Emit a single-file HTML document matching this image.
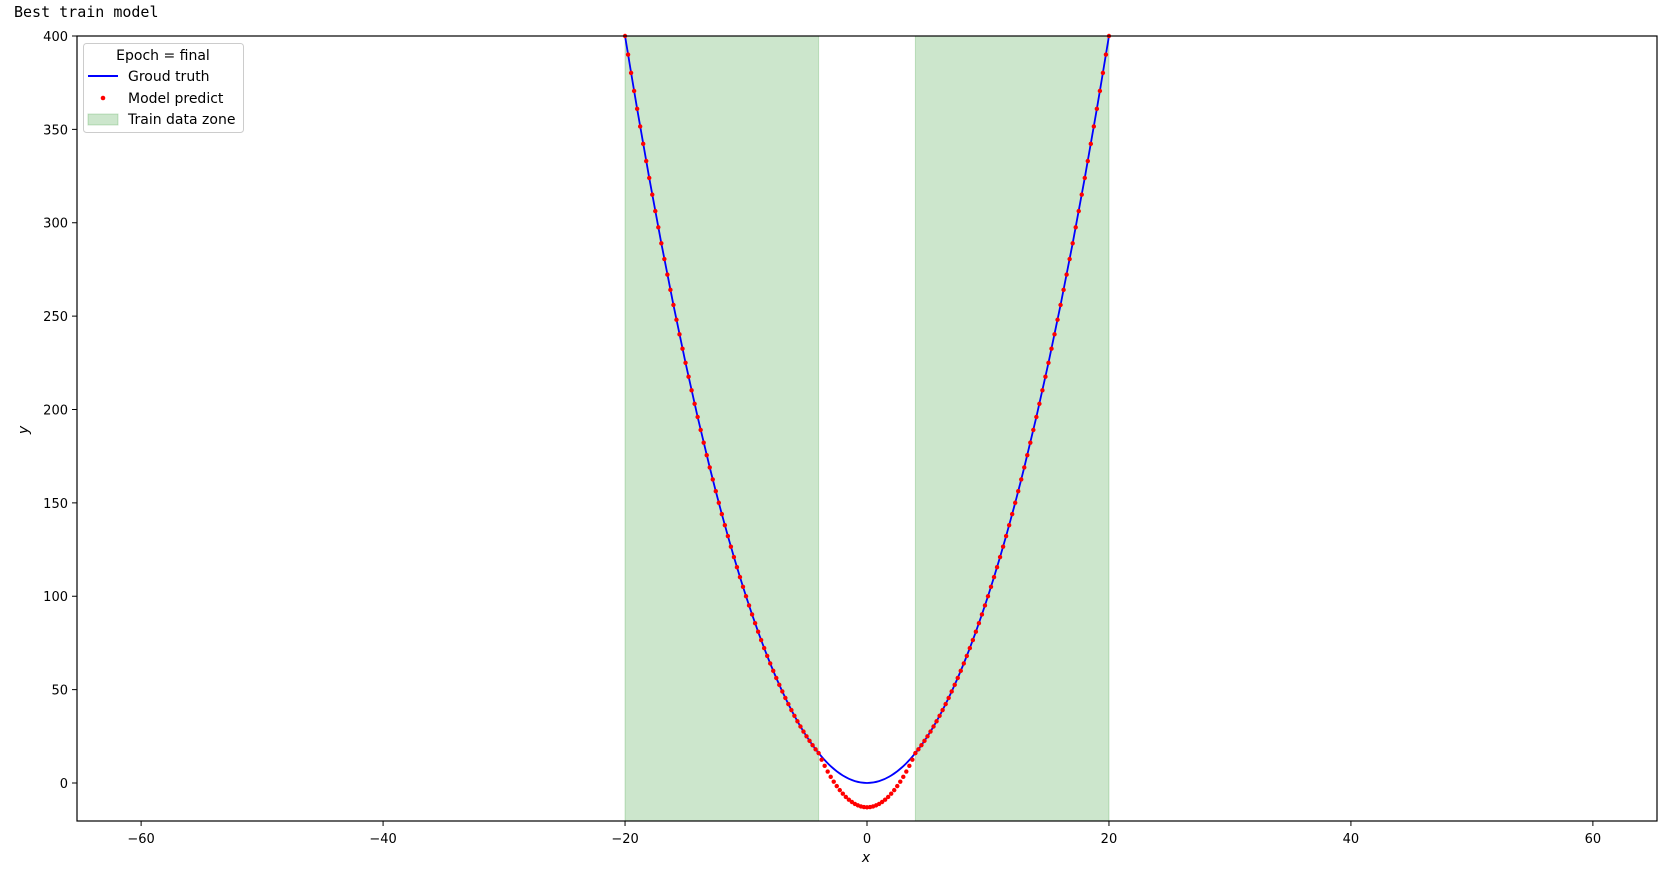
<!DOCTYPE html>
<html><head><meta charset="utf-8"><style>
body{margin:0;background:#fff}
svg text{font-family:"DejaVu Sans","Liberation Sans",sans-serif;fill:#000}
</style></head><body>
<svg id="chart" width="1665" height="871" xmlns="http://www.w3.org/2000/svg">
<text x="14" y="17" font-family="DejaVu Sans Mono, Liberation Mono, monospace" style="font-family:'DejaVu Sans Mono','Liberation Mono',monospace" font-size="15">Best train model</text>
<g id="zones"></g><g id="truth"></g><g id="pred"></g>
<rect x="77" y="36" width="1580" height="785" fill="none" stroke="#000" stroke-width="1.2"/>
<g id="xticks"></g><g id="yticks"></g>
<text x="866" y="862" font-size="14" font-style="italic" text-anchor="middle">x</text>
<text x="0" y="0" font-size="14" font-style="italic" text-anchor="middle" transform="translate(28,430) rotate(-90)">y</text>
<g>
<rect x="83.5" y="43.5" width="160" height="89" rx="3" fill="#fff" fill-opacity="0.8" stroke="#ccc"/>
<text x="163" y="60" font-size="14" text-anchor="middle">Epoch = final</text>
<line x1="88" y1="76" x2="118" y2="76" stroke="#0000ff" stroke-width="2"/>
<text x="128" y="81" font-size="14">Groud truth</text>
<circle cx="103" cy="98" r="2.3" fill="#ff0000"/>
<text x="128" y="103" font-size="14">Model predict</text>
<rect x="88" y="114" width="30" height="11" fill="#008000" fill-opacity="0.2" stroke="#008000" stroke-opacity="0.2"/>
<text x="128" y="124" font-size="14">Train data zone</text>
</g>
</svg>
<script>
const xTicks=[-60,-40,-20,0,20,40,60];
const yTicks=[0,50,100,150,200,250,300,350,400];
const zoneStarts=[-20,4];
const zoneEnds=[-4,20];
const truthX=[-20,-19,-18,-17,-16,-15,-14,-13,-12,-11,-10,-9,-8,-7,-6,-5,-4,-3,-2,-1,0,1,2,3,4,5,6,7,8,9,10,11,12,13,14,15,16,17,18,19,20];
const truthY=[400,361,324,289,256,225,196,169,144,121,100,81,64,49,36,25,16,9,4,1,0,1,4,9,16,25,36,49,64,81,100,121,144,169,196,225,256,289,324,361,400];
const predStart=-20, predStep=0.25;
const predY=[400,390.06,380.25,370.56,361,351.56,342.25,333.06,324,315.06,306.25,297.56,289,280.56,272.25,264.06,256,248.06,240.25,232.56,225,217.56,210.25,203.06,196,189.06,182.25,175.56,169,162.56,156.25,150.06,144,138.06,132.25,126.56,121,115.56,110.25,105.06,100,95.06,90.25,85.56,81,76.56,72.25,68.06,64,60.06,56.25,52.56,49,45.56,42.25,39.06,36,33.06,30.25,27.56,25,22.56,20.25,18.06,
16,12.49,9.2,6.14,3.31,0.71,-1.67,-3.82,-5.75,-7.45,-8.92,-10.17,-11.19,-11.98,-12.55,-12.89,-13,-12.89,-12.55,-11.98,-11.19,-10.17,-8.92,-7.45,-5.75,-3.82,-1.67,0.71,3.31,6.14,9.2,12.49,16,
18.06,20.25,22.56,25,27.56,30.25,33.06,36,39.06,42.25,45.56,49,52.56,56.25,60.06,64,68.06,72.25,76.56,81,85.56,90.25,95.06,100,105.06,110.25,115.56,121,126.56,132.25,138.06,144,150.06,156.25,162.56,169,175.56,182.25,189.06,196,203.06,210.25,217.56,225,232.56,240.25,248.06,256,264.06,272.25,280.56,289,297.56,306.25,315.06,324,333.06,342.25,351.56,361,370.56,380.25,390.06,400];
const NS='http://www.w3.org/2000/svg';
const L=77,R=1657,T=36,B=821;
const X0=-65.3,X1=65.3,Y0=-20.35,Y1=400;
const sx=v=>L+(v-X0)/(X1-X0)*(R-L);
const sy=v=>B-(v-Y0)/(Y1-Y0)*(B-T);
function mk(tag,attrs,parent){const e=document.createElementNS(NS,tag);for(const k in attrs)e.setAttribute(k,attrs[k]);document.getElementById(parent).appendChild(e);return e;}
zoneStarts.forEach((s,i)=>{
 const e=mk('rect',{x:sx(s),y:T,width:sx(zoneEnds[i])-sx(s),height:B-T,fill:'#008000','fill-opacity':0.2,stroke:'#008000','stroke-opacity':0.2},'zones');
 
 
});
// smooth truth line via Catmull-Rom
let pts=truthX.map((x,i)=>[sx(x),sy(truthY[i])]);
let d='M'+pts[0][0]+','+pts[0][1];
for(let i=0;i<pts.length-1;i++){const p0=pts[Math.max(0,i-1)],p1=pts[i],p2=pts[i+1],p3=pts[Math.min(pts.length-1,i+2)];
 d+=' C'+(p1[0]+(p2[0]-p0[0])/6)+','+(p1[1]+(p2[1]-p0[1])/6)+' '+(p2[0]-(p3[0]-p1[0])/6)+','+(p2[1]-(p3[1]-p1[1])/6)+' '+p2[0]+','+p2[1];}
const tl=mk('path',{d:d,fill:'none',stroke:'#0000ff','stroke-width':1.8},'truth');


predY.forEach((v,i)=>{
 const c=mk('circle',{cx:sx(predStart+i*predStep),cy:sy(v),r:2.2,fill:'#ff0000'},'pred');
 
 
});
xTicks.forEach(v=>{
 const x=sx(v);
 const t=mk('line',{x1:x,x2:x,y1:B,y2:B+5,stroke:'#000'},'xticks');
 
 
 const lb=mk('text',{x:x,y:B+22,'font-size':13,'text-anchor':'middle'},'xticks');
 lb.textContent=(v<0?'\u2212'+(-v):v);
 
 
});
yTicks.forEach(v=>{
 const y=sy(v);
 const t=mk('line',{x1:L-5,x2:L,y1:y,y2:y,stroke:'#000'},'yticks');
 
 
 const lb=mk('text',{x:L-9,y:y+5,'font-size':13,'text-anchor':'end'},'yticks');
 lb.textContent=v;
 
 
});
</script>
</body></html>
